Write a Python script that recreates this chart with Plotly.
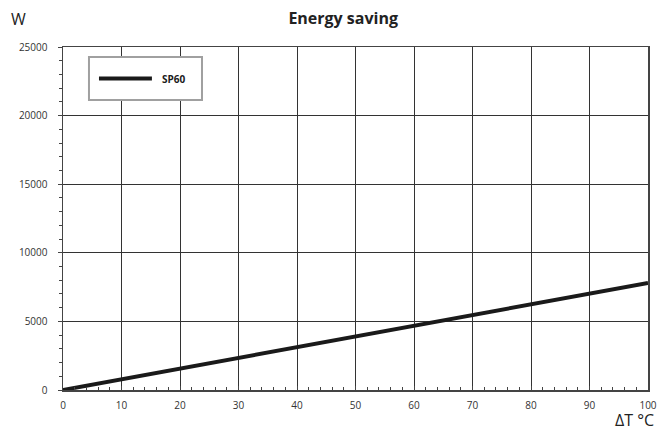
import plotly.graph_objects as go

delta_t = [0, 10, 20, 30, 40, 50, 60, 70, 80, 90, 100]
sp60_w = [0, 780, 1560, 2340, 3120, 3900, 4680, 5460, 6240, 7020, 7800]
x_ticks = [0, 10, 20, 30, 40, 50, 60, 70, 80, 90, 100]
y_ticks = [0, 5000, 10000, 15000, 20000, 25000]
series_name = "SP60"

FONT = "Open Sans"
LINE_COLOR = "#1a1a1a"
fig = go.Figure()
fig.add_trace(go.Scatter(
    x=delta_t, y=sp60_w, mode="lines", name=series_name,
    line=dict(color=LINE_COLOR, width=4), showlegend=False,
))

fig.update_layout(
    width=658, height=430,
    margin=dict(l=63, r=10, t=47, b=40, autoexpand=False),
    paper_bgcolor="white", plot_bgcolor="white",
    font=dict(family=FONT, color="#333333", size=10),
    showlegend=False,
    title=dict(text="<b>Energy saving</b>", x=0.479, xref="paper", xanchor="center",
               y=0.958, yref="container", yanchor="middle",
               font=dict(family=FONT, size=16, color="#222222")),
    xaxis=dict(
        range=[0, 100], tickvals=x_ticks, ticktext=[str(v) for v in x_ticks],
        showgrid=True, gridcolor="#333333", gridwidth=1,
        showline=True, linecolor="#444444", linewidth=1.5, mirror=True,
        ticks="inside", ticklen=4, tickcolor="#444444",
        minor=dict(dtick=2, ticks="inside", ticklen=3, tickcolor="#444444", showgrid=False),
        zeroline=False, fixedrange=True, ticklabelstandoff=5,
        tickfont=dict(size=10, color="#333333"),
    ),
    yaxis=dict(
        range=[0, 25000], tickvals=y_ticks, ticktext=[str(v) for v in y_ticks],
        showgrid=True, gridcolor="#333333", gridwidth=1,
        showline=True, linecolor="#444444", linewidth=1.5, mirror=True,
        ticks="outside", ticklen=4, tickcolor="#444444",
        minor=dict(dtick=1000, ticks="outside", ticklen=3, tickcolor="#444444", showgrid=False),
        zeroline=False, fixedrange=True, ticklabelstandoff=8,
        tickfont=dict(size=10, color="#333333"),
    ),
)

# legend box drawn by hand so its sample line has the reference's length
fig.add_shape(type="rect", xref="paper", yref="paper", x0=0.0444, x1=0.2376, y0=0.8455, y1=0.9708,
              line=dict(color="#a0a0a0", width=2), fillcolor="white", layer="above")
fig.add_shape(type="line", xref="paper", yref="paper", x0=0.0615, x1=0.152, y0=0.908, y1=0.908,
              line=dict(color=LINE_COLOR, width=4), layer="above")
fig.add_annotation(text=f"<b>{series_name}</b>", xref="paper", yref="paper", x=0.165, y=0.908,
                   xanchor="left", yanchor="middle", showarrow=False,
                   font=dict(family=FONT, size=10, color="#1a1a1a"))

fig.add_annotation(text="W", xref="paper", yref="paper", x=-0.092, y=1.082,
                   xanchor="left", yanchor="middle", showarrow=False,
                   font=dict(family=FONT, size=16, color="#222222"))
fig.add_annotation(text="ΔT °C", xref="paper", yref="paper", x=1.0135, y=-0.0885,
                   xanchor="right", yanchor="middle", showarrow=False,
                   font=dict(family=FONT, size=16, color="#222222"))

fig.write_html("out.html",
               config={"displayModeBar": False, "staticPlot": True},
               post_script="document.body.style.margin='0px';document.body.style.overflow='hidden';")
